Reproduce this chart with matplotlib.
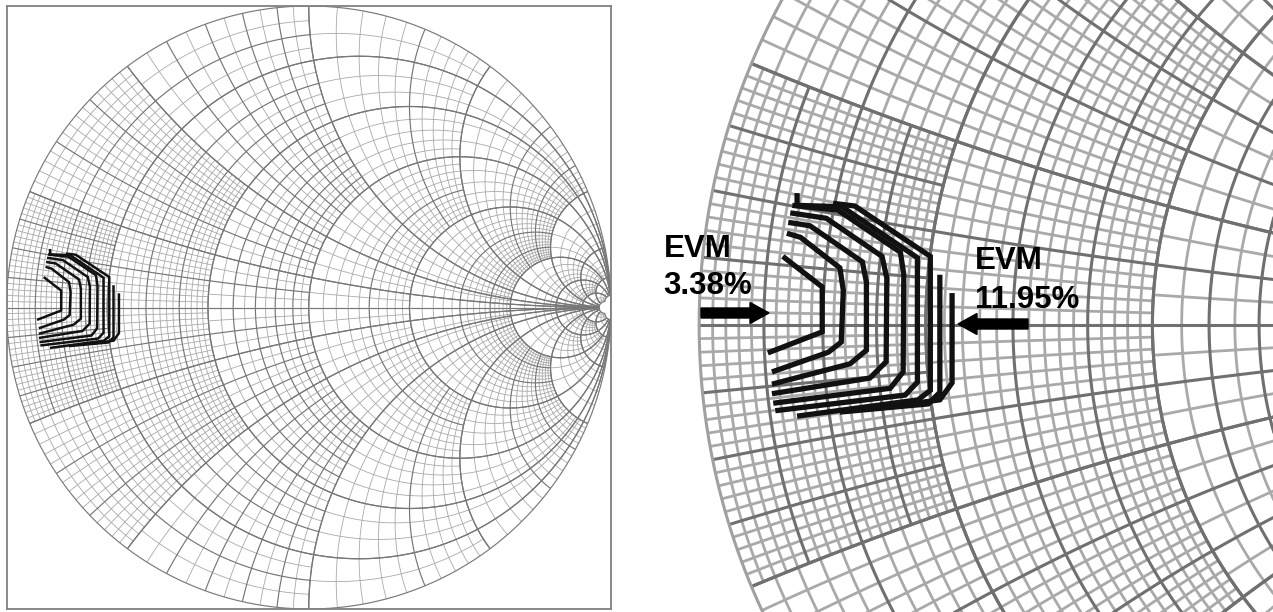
import numpy as np
import matplotlib
matplotlib.use("Agg")
import matplotlib.pyplot as plt
from matplotlib.collections import LineCollection
from matplotlib.patches import FancyArrow
from matplotlib.transforms import IdentityTransform

# Smith chart grid bands (normalised r and x) and the step used in each band
band_edges = [0, 0.2, 0.5, 1, 2, 5, 10, 20, 50]
band_steps = [0.01, 0.02, 0.05, 0.1, 0.2, 1, 2, 10]
band_major = [0.05, 0.1, 0.1, 0.5, 1, 5, 10, 50]

# EVM contours, reflection coefficient (3.38% inner ... 11.95% outer)
c1_re = [-0.877, -0.819, -0.819, -0.899]
c1_im = [0.101, 0.056, -0.010, -0.041]
c2_re = [-0.871, -0.851, -0.793, -0.788, -0.791, -0.810, -0.893]
c2_im = [0.135, 0.129, 0.084, 0.051, -0.025, -0.040, -0.069]
c3_re = [-0.869, -0.837, -0.760, -0.754, -0.754, -0.778, -0.893]
c3_im = [0.151, 0.146, 0.093, 0.063, -0.037, -0.057, -0.087]
c4_re = [-0.866, -0.813, -0.731, -0.724, -0.725, -0.749, -0.893]
c4_im = [0.165, 0.157, 0.101, 0.069, -0.054, -0.078, -0.101]
c5_re = [-0.863, -0.796, -0.704, -0.699, -0.700, -0.719, -0.891]
c5_im = [0.176, 0.169, 0.107, 0.074, -0.069, -0.093, -0.115]
c6_re = [-0.856, -0.856, -0.790, -0.679, -0.679, -0.697, -0.888]
c6_im = [0.194, 0.176, 0.174, 0.099, -0.084, -0.103, -0.126]
c7_re = [-0.803, -0.771, -0.660, -0.660, -0.678, -0.856]
c7_im = [0.179, 0.175, 0.101, -0.096, -0.110, -0.134]
c8_re = [-0.646, -0.646, -0.663, -0.793]
c8_im = [0.074, -0.099, -0.116, -0.128]
c9_re = [-0.628, -0.628, -0.646, -0.704]
c9_im = [0.047, -0.085, -0.110, -0.118]

contours = [(c1_re, c1_im), (c2_re, c2_im), (c3_re, c3_im), (c4_re, c4_im),
            (c5_re, c5_im), (c6_re, c6_im), (c7_re, c7_im), (c8_re, c8_im),
            (c9_re, c9_im)]


def gamma(z):
    return (z - 1) / (z + 1)


def is_major(v, big, edges):
    return abs(v / big - round(v / big)) < 1e-6 or any(abs(v - e) < 1e-9 for e in edges)


def smith_segments(n=50):
    fine, major = [], []
    nb = len(band_steps)
    for i in range(nb):
        for j in range(nb):
            k = max(i, j)
            step, big = band_steps[k], band_major[k]
            r0, r1 = band_edges[i], band_edges[i + 1]
            x0, x1 = band_edges[j], band_edges[j + 1]
            # resistance circles in this zone
            rvals = list(np.arange(np.ceil(r0 / step - 1e-9) * step, r1 + 1e-9, step)) + [r0, r1]
            for r in sorted(set(np.round(rvals, 6))):
                if r <= 0:
                    continue
                g = gamma(r + 1j * np.linspace(x0, x1, n))
                seg = np.column_stack([g.real, g.imag])
                tgt = major if is_major(r, big, [r0, r1]) else fine
                tgt.append(seg)
                tgt.append(seg * [1, -1])
            # reactance arcs in this zone
            xvals = list(np.arange(np.ceil(x0 / step - 1e-9) * step, x1 + 1e-9, step)) + [x0, x1]
            for x in sorted(set(np.round(xvals, 6))):
                g = gamma(np.linspace(r0, r1, n) + 1j * x)
                seg = np.column_stack([g.real, g.imag])
                tgt = major if is_major(x, big, [x0, x1]) else fine
                tgt.append(seg)
                if x > 0:
                    tgt.append(seg * [1, -1])
    return fine, major


fine_segs, major_segs = smith_segments()
t = np.linspace(0, 2 * np.pi, 400)
outer = np.column_stack([np.cos(t), np.sin(t)])


def draw_smith(ax, lw_fine, lw_major, lw_contour, c_fine, c_major, c_edge):
    ax.add_collection(LineCollection(fine_segs, colors=c_fine, linewidths=lw_fine))
    ax.add_collection(LineCollection(major_segs, colors=c_major, linewidths=lw_major))
    ax.plot(outer[:, 0], outer[:, 1], color=c_edge, lw=lw_major)
    for re, im in contours:
        ax.plot(re, im, color='#111111', lw=lw_contour, solid_joinstyle='miter',
                solid_capstyle='butt')


fig = plt.figure(figsize=(12.73, 6.12), dpi=100)

# full chart
ax1 = fig.add_axes([6.5 / 1273, 3 / 612, 604.5 / 1273, 603 / 612])
draw_smith(ax1, 0.6, 0.85, 1.8, '#a9a9a9', '#777777', '#7a7a7a')
ax1.set_xlim(-1, 1)
ax1.set_ylim(-1, 1)
ax1.set_xticks([])
ax1.set_yticks([])
for s in ax1.spines.values():
    s.set_color('#808080')
    s.set_linewidth(1.3)

# zoomed view
ax2 = fig.add_axes([640 / 1273, 0, 633 / 1273, 1])
draw_smith(ax2, 2.0, 2.2, 3.8, '#a9a9a9', '#707070', '#a0a0a0')
ax2.set_xlim(-1.087, -0.156)
ax2.set_ylim(-0.422, 0.478)
ax2.axis('off')

lab = dict(fontsize=22.5, fontweight='bold', family='Liberation Sans', va='baseline', color='black')
fig.text(664 / 1273, 1 - 257 / 612, 'EVM', **lab)
fig.text(663 / 1273, 1 - 294 / 612, '3.38%', **lab)
fig.text(975 / 1273, 1 - 269 / 612, 'EVM', **lab)
fig.text(975 / 1273, 1 - 308 / 612, '11.95%', **lab)

fig.add_artist(FancyArrow(701, 612 - 313, 68, 0, width=10, head_width=21, head_length=19,
                          length_includes_head=True, color='black', transform=IdentityTransform()))
fig.add_artist(FancyArrow(1028, 612 - 324, -70, 0, width=10, head_width=21, head_length=19,
                          length_includes_head=True, color='black', transform=IdentityTransform()))

fig.savefig('out.png', dpi=100)
